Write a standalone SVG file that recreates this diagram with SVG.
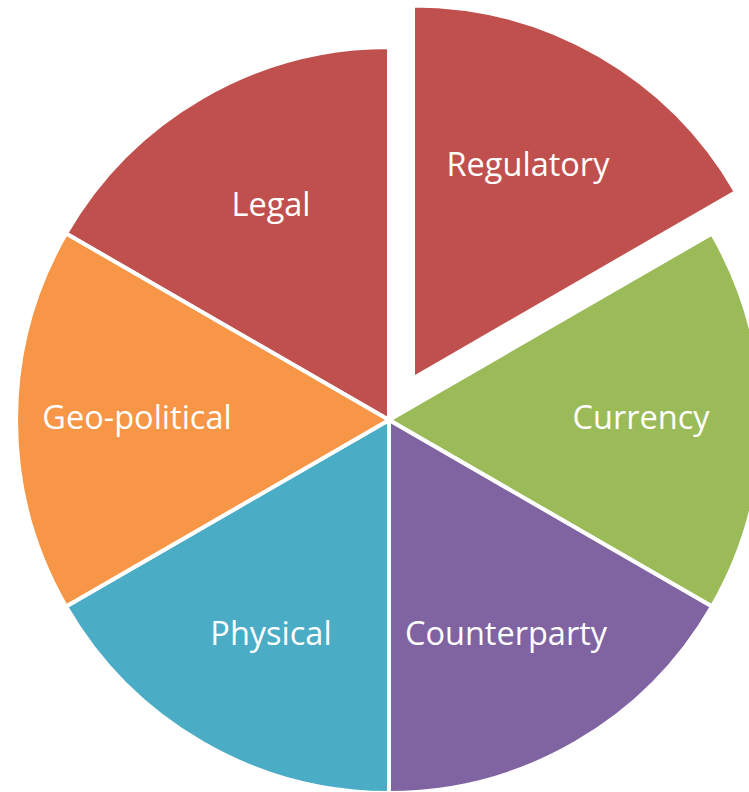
<svg xmlns="http://www.w3.org/2000/svg" width="749" height="792" viewBox="0 0 749 792">
<style>
.s{stroke:#fff;stroke-width:4;stroke-linejoin:miter}
.t{font-family:"Open Sans","Liberation Sans",sans-serif;font-size:32.5px;fill:#fff;text-anchor:middle}
</style>
<rect width="749" height="792" fill="#fff"/>
<g id="legal"><path class="s" fill="#C0504D" d="M389,420 L66,233.5 A373,373 0 0 1 389,47 Z"/><text class="t" x="271" y="216">Legal</text></g>
<g id="regulatory"><path class="s" fill="#C0504D" d="M413,378.4 L413,5.4 A373,373 0 0 1 736,191.9 Z"/><text class="t" x="528" y="176">Regulatory</text></g>
<g id="currency"><path class="s" fill="#9BBB59" d="M389,420 L712,233.5 A373,373 0 0 1 712,606.5 Z"/><text class="t" x="641" y="429">Currency</text></g>
<g id="counterparty"><path class="s" fill="#8064A2" d="M389,420 L712,606.5 A373,373 0 0 1 389,793 Z"/><text class="t" x="506" y="645">Counterparty</text></g>
<g id="physical"><path class="s" fill="#4BACC6" d="M389,420 L389,793 A373,373 0 0 1 66,606.5 Z"/><text class="t" x="271" y="645">Physical</text></g>
<g id="geopolitical"><path class="s" fill="#F79646" d="M389,420 L66,606.5 A373,373 0 0 1 66,233.5 Z"/><text class="t" x="137" y="429">Geo-political</text></g>
<g id="connectors"></g>
</svg>
